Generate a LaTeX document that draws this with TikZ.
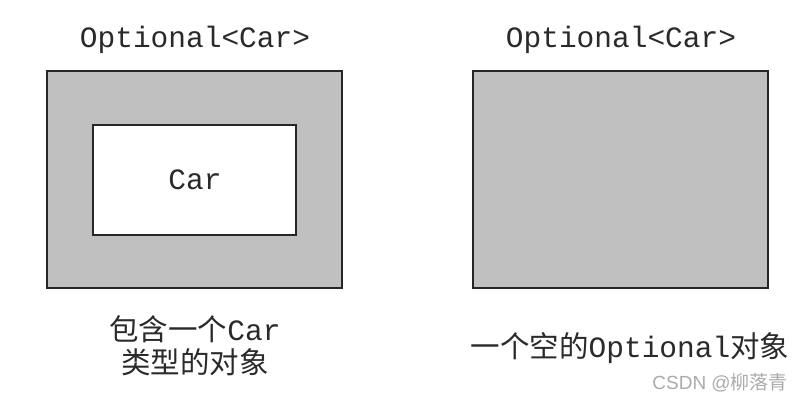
\documentclass[tikz,border=0pt]{standalone}
\usepackage{fontspec}
\newfontfamily\cjk{Noto Sans CJK SC}
\newfontfamily\mono{Liberation Mono}
\newfontfamily\wmsans{Liberation Sans}
\definecolor{boxgray}{HTML}{C0C0C0}
\definecolor{wmgray}{HTML}{ABABAB}
\definecolor{txt}{HTML}{2A2A2A}
\begin{document}
\begin{tikzpicture}[x=1pt,y=-1pt,
  box/.style={draw=black!85,line width=1.3pt},
  lbl/.style={inner sep=0pt,text=txt,font=\fontsize{29.5}{33}\selectfont,align=center},
  monolbl/.style={lbl,font=\fontsize{29.5}{33}\mono},
]
\useasboundingbox (0,0) rectangle (800,401);
\fill[white] (0,0) rectangle (800,401);
% left
\node[monolbl] (t1) at (195,40) {Optional<Car>};
\path[box,fill=boxgray] (47,71) rectangle (342,288);
\path[box,fill=white] (93,125) rectangle (296,235);
\node[monolbl] (car) at (195,180) {Car};
\node[lbl] (d1) at (195,346) {{\cjk 包含一个}{\mono Car}\\{\cjk 类型的对象}};
% right
\node[monolbl] (t2) at (621,40) {Optional<Car>};
\path[box,fill=boxgray] (473,71) rectangle (768,288);
\node[lbl] (d2) at (630,348) {{\cjk 一个空的}{\mono Optional}{\cjk 对象}};
% watermark
\node[inner sep=0pt,text=wmgray,font=\fontsize{19}{22}\selectfont,anchor=east] (wm) at (788,383) {{\wmsans CSDN @}{\cjk 柳落青}};
\end{tikzpicture}
\end{document}
